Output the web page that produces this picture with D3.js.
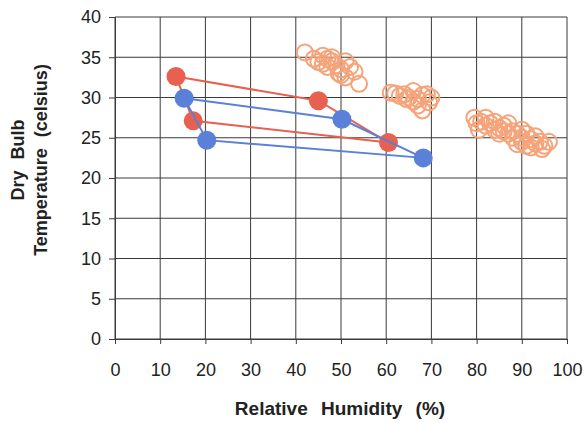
<!DOCTYPE html>
<html>
<head>
<meta charset="utf-8">
<script src="https://cdn.jsdelivr.net/npm/d3@7"></script>
<style>
  body { margin: 0; background: #fff; }
  text { font-family: "Liberation Sans", Arial, sans-serif; fill: #222; }
  .axis-title { font-weight: bold; }
</style>
</head>
<body>
<div id="chart"></div>
<script>
// filled markers joined into closed loops
var redHumidity = [13.5, 45, 60.5, 17.3];
var redTemp = [32.6, 29.6, 24.4, 27.1];
var blueHumidity = [15.3, 50.2, 68.2, 20.3];
var blueTemp = [29.9, 27.3, 22.5, 24.7];

// open circle clusters
var openHumidity = [42, 44, 45, 46, 47, 48, 49, 50, 47, 51, 52, 50, 51, 53, 54, 48, 46, 49.5,
    62, 63, 64, 65, 66, 67, 68, 69, 67, 68, 66, 70, 64.5, 61, 69.5,
    79.5, 80, 81, 82, 83, 84, 85, 86, 86, 87, 88, 88, 89, 90, 90, 91, 91, 92, 93, 93, 94, 95, 96, 92, 89, 84, 82, 87, 80.5, 85, 90, 94.5];
var openTemp = [35.6, 34.8, 34.4, 34.2, 34.8, 34.5, 34, 33.5, 33.8, 34.5, 33.8, 32.8, 32.5, 33.2, 31.7, 35, 35.2, 33,
    30.5, 30.2, 30.4, 30, 29.5, 29.8, 30.3, 30.4, 29, 28.4, 30.8, 30, 29.8, 30.6, 29.4,
    27.5, 26.8, 27, 26.5, 26.8, 27, 26.2, 25.8, 26.5, 25.5, 25.8, 25, 25.5, 25, 24.5, 25.5, 24, 24.8, 25.2, 24.3, 24.5, 24, 24.5, 23.8, 24.2, 26, 27.5, 26.8, 26, 25.5, 26, 23.6];

var xTicks = d3.range(0, 101, 10);
var yTicks = d3.range(0, 41, 5);

var margin = {top: 17, right: 18, bottom: 84, left: 115};
var width = 585, height = 423;
var innerW = width - margin.left - margin.right,
    innerH = height - margin.top - margin.bottom;

var svg = d3.select("#chart").append("svg")
    .attr("width", width)
    .attr("height", height);

var g = svg.append("g")
    .attr("transform", "translate(" + margin.left + "," + margin.top + ")");

var x = d3.scaleLinear().domain([0, 100]).range([0, innerW]);
var y = d3.scaleLinear().domain([0, 40]).range([innerH, 0]);

// grid
g.append("g").selectAll("line")
    .data(xTicks).enter().append("line")
    .attr("x1", function(d) { return x(d); })
    .attr("x2", function(d) { return x(d); })
    .attr("y1", 0).attr("y2", innerH)
    .attr("stroke", "#3a3a3a").attr("stroke-width", 1);
g.append("g").selectAll("line")
    .data(yTicks).enter().append("line")
    .attr("y1", function(d) { return y(d); })
    .attr("y2", function(d) { return y(d); })
    .attr("x1", 0).attr("x2", innerW)
    .attr("stroke", "#3a3a3a").attr("stroke-width", 1);

// axes
var xAxis = g.append("g")
    .attr("transform", "translate(0," + innerH + ")")
    .call(d3.axisBottom(x).tickValues(xTicks).tickSize(5).tickPadding(19));
var yAxis = g.append("g")
    .call(d3.axisLeft(y).tickValues(yTicks).tickSize(6).tickPadding(8));
[xAxis, yAxis].forEach(function(a) {
    a.select(".domain").attr("stroke", "#3a3a3a");
    a.selectAll(".tick line").attr("stroke", "#3a3a3a");
    a.selectAll(".tick text")
        .attr("fill", "#222")
        .style("font-family", "'Liberation Sans', Arial, sans-serif")
        .style("font-size", "18px");
});

// open circles
g.append("g").selectAll("circle")
    .data(openHumidity).enter().append("circle")
    .attr("cx", function(d) { return x(d); })
    .attr("cy", function(d, i) { return y(openTemp[i]); })
    .attr("r", 8)
    .attr("fill", "none")
    .attr("stroke", "#f5a47a")
    .attr("stroke-width", 2);

// closed loops with filled markers
var line = d3.line()
    .x(function(d) { return x(d[0]); })
    .y(function(d) { return y(d[1]); })
    .curve(d3.curveLinearClosed);

function drawLoop(hum, temp, color) {
    var pts = hum.map(function(h, i) { return [h, temp[i]]; });
    g.append("path")
        .attr("d", line(pts))
        .attr("fill", "none")
        .attr("stroke", color)
        .attr("stroke-width", 2);
    g.append("g").selectAll("circle")
        .data(pts).enter().append("circle")
        .attr("cx", function(d) { return x(d[0]); })
        .attr("cy", function(d) { return y(d[1]); })
        .attr("r", 9.5)
        .attr("fill", color);
}
drawLoop(redHumidity, redTemp, "#e8604f");
drawLoop(blueHumidity, blueTemp, "#5a80d8");

// titles
svg.append("text")
    .attr("class", "axis-title")
    .attr("x", 340)
    .attr("y", 415)
    .attr("text-anchor", "middle")
    .style("font-size", "19px")
    .style("word-spacing", "8px")
    .text("Relative Humidity (%)");

var yt = svg.append("text")
    .attr("class", "axis-title")
    .attr("transform", "translate(0,160) rotate(-90)")
    .attr("text-anchor", "middle")
    .style("font-size", "18px")
    .style("word-spacing", "6px");
yt.append("tspan").attr("x", 0).attr("y", 24).text("Dry Bulb");
yt.append("tspan").attr("x", 0).attr("y", 47).text("Temperature (celsius)");
</script>
</body>
</html>
